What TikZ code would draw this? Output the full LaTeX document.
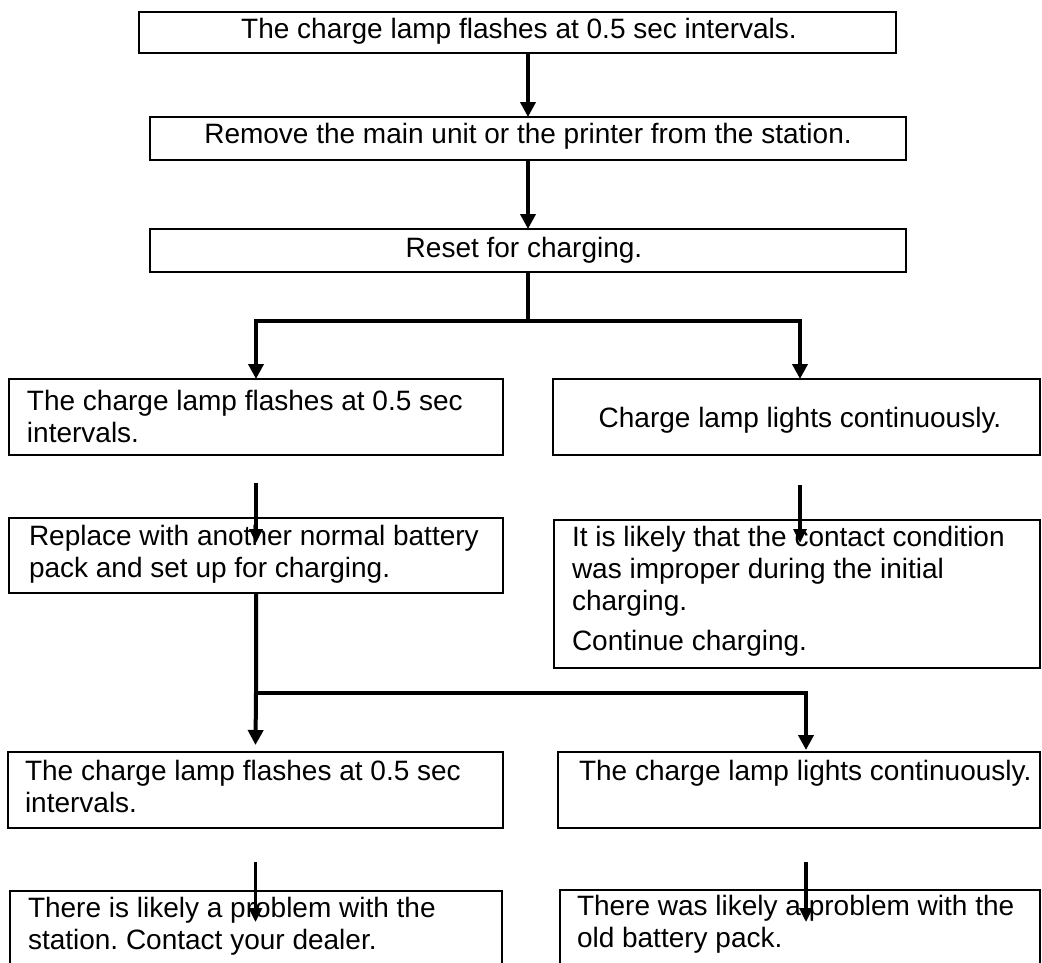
\documentclass[tikz,border=0pt]{standalone}
\usepackage{fontspec}
\setmainfont{Liberation Sans}
\usetikzlibrary{arrows.meta,fit}
\frenchspacing
\begin{document}
\begin{tikzpicture}[x=1pt,y=-1pt,
  box/.style={draw,line width=1.6pt,fill=white,inner sep=0pt,outer sep=0pt},
  txt/.style={inner sep=0pt,outer sep=0pt,anchor=north west,align=left,font=\fontsize{28}{32}\selectfont},
  ctxt/.style={inner sep=0pt,outer sep=0pt,anchor=base,font=\fontsize{28}{32}\selectfont},
  ltxt/.style={inner sep=0pt,outer sep=0pt,anchor=base west,font=\fontsize{28}{32}\selectfont},
  big/.style={line width=4pt,-{Triangle[length=15pt,width=15pt]}},
  small/.style={line width=3.2pt,-{Triangle[length=14pt,width=13pt]}}]
\clip (0,0) rectangle (1042,962);
\fill[white] (0,0) rectangle (1042,962);

% boxes
\node[box,fit={(139,12) (896,53)}] (b1) {};
\node[box,fit={(150,117) (906,160)}] (b2) {};
\node[box,fit={(150,229) (906,272)}] (b3) {};
\node[box,fit={(9,379) (503,455)}] (b4L) {};
\node[box,fit={(553,379) (1040,455)}] (b4R) {};
\node[box,fit={(9,518) (503,593)}] (b5L) {};
\node[box,fit={(554,520) (1040,668)}] (b5R) {};
\node[box,fit={(8,752) (503,828)}] (b6L) {};
\node[box,fit={(558,752) (1040,828)}] (b6R) {};
\node[box,fit={(10,891) (502,995)}] (b7L) {};
\node[box,fit={(560,890) (1040,995)}] (b7R) {};

% texts
\node[ctxt] (t1) at (519,38.5) {The charge lamp flashes at 0.5 sec intervals.};
\node[ctxt] (t2) at (528,143.5) {Remove the main unit or the printer from the station.};
\node[ctxt] (t3) at (524,257) {Reset for charging.};
\node[txt] (t4L) at (27,387.6) {\strut The charge lamp flashes at 0.5 sec\\\strut intervals.};
\node[ctxt] (t4R) at (800,427) {Charge lamp lights continuously.};
\node[txt] (t5L) at (29,522.6) {\strut Replace with another normal battery\\\strut pack and set up for charging.};
\node[txt] (t5R) at (572,524) {\strut It is likely that the contact condition\\\strut was improper during the initial\\\strut charging.\\[8pt]\strut Continue charging.};
\node[txt] (t6L) at (25,757.6) {\strut The charge lamp flashes at 0.5 sec\\\strut intervals.};
\node[ltxt] (t6R) at (579,780) {The charge lamp lights continuously.};
\node[txt] (t7L) at (28,894.6) {\strut There is likely a problem with the\\\strut station. Contact your dealer.};
\node[txt] (t7R) at (577,892.6) {\strut There was likely a problem with the\\\strut old battery pack.};

% junctions
\coordinate (j1) at (528,321);
\coordinate (j2) at (256,693);

% connectors
\draw[big] (b2.north |- b1.south) -- (b2.north);
\draw[big] (b2.south) -- (b3.north);
\draw[big] (b3.south) -- (j1) -| (b4L.north);
\draw[big] (j1) -| ([xshift=3.5pt]b4R.north);
\draw[small] ([yshift=-28pt]b4L.south) -- ([yshift=-25pt]b5L.north);
\draw[small] ([xshift=3.5pt,yshift=-30pt]b4R.south) -- ([xshift=3pt,yshift=-23pt]b5R.north);
\draw[big] (b5L.south) -- (j2) -- ([yshift=7pt]b6L.north);
\draw[big] (j2) -| ([xshift=7pt,yshift=2pt]b6R.north);
\draw[small] ([yshift=-34pt]b6L.south) -- ([yshift=-31pt]b6L.south |- b7L.north);
\draw[small] ([xshift=7pt,yshift=-34pt]b6R.south) -- ([xshift=6pt,yshift=-32pt]b7R.north);
\end{tikzpicture}
\end{document}
